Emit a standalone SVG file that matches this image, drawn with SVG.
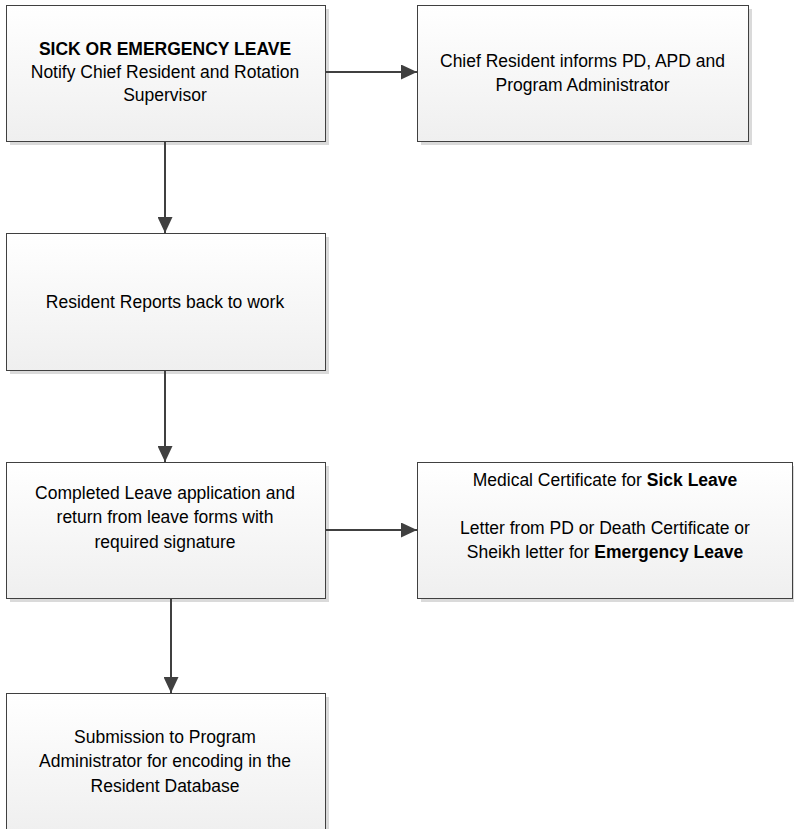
<svg xmlns="http://www.w3.org/2000/svg" width="794" height="829" viewBox="0 0 794 829">
<defs>
<linearGradient id="g" x1="0" y1="0" x2="0" y2="1">
<stop offset="0" stop-color="#ffffff"/>
<stop offset="1" stop-color="#efefef"/>
</linearGradient>
<marker id="ah" markerWidth="16" markerHeight="15" refX="16" refY="7.5" orient="auto" markerUnits="userSpaceOnUse">
<path d="M0,0 L16,7.5 L0,15 Z" fill="#404040"/>
</marker>
<style>
.sh{fill:#dadada;}
.bx{fill:url(#g);stroke:#404040;stroke-width:1;}
.t{font-family:"Liberation Sans",Arial,sans-serif;font-size:17.5px;fill:#000;text-anchor:middle;}
.b{font-weight:bold;}
.c{stroke:#404040;stroke-width:2;fill:none;marker-end:url(#ah);}
</style>
</defs>
<rect width="794" height="829" fill="#fff"/>
<g id="n1">
<rect class="sh" x="10" y="9" width="319" height="136"/>
<rect class="bx" x="6.5" y="5.5" width="319" height="136"/>
<text class="t b" x="165" y="55">SICK OR EMERGENCY LEAVE</text>
<text class="t" x="165" y="78">Notify Chief Resident and Rotation</text>
<text class="t" x="165" y="101">Supervisor</text>
</g>
<g id="n2">
<rect class="sh" x="421" y="9" width="331" height="136"/>
<rect class="bx" x="417.5" y="5.5" width="331" height="136"/>
<text class="t" x="582.5" y="67">Chief Resident informs PD, APD and</text>
<text class="t" x="582.5" y="91">Program Administrator</text>
</g>
<g id="n3">
<rect class="sh" x="10" y="237" width="319" height="137"/>
<rect class="bx" x="6.5" y="233.5" width="319" height="137"/>
<text class="t" x="165" y="308">Resident Reports back to work</text>
</g>
<g id="n4">
<rect class="sh" x="10" y="466" width="319" height="136"/>
<rect class="bx" x="6.5" y="462.5" width="319" height="136"/>
<text class="t" x="165" y="499">Completed Leave application and</text>
<text class="t" x="165" y="523">return from leave forms with</text>
<text class="t" x="165" y="548">required signature</text>
</g>
<g id="n5">
<rect class="sh" x="421" y="466" width="376" height="136"/>
<rect class="bx" x="417.5" y="462.5" width="375" height="136"/>
<text class="t" x="605" y="486">Medical Certificate for <tspan class="b">Sick Leave</tspan></text>
<text class="t" x="605" y="534">Letter from PD or Death Certificate or</text>
<text class="t" x="605" y="558">Sheikh letter for <tspan class="b">Emergency Leave</tspan></text>
</g>
<g id="n6">
<rect class="sh" x="10" y="697" width="319" height="140"/>
<rect class="bx" x="6.5" y="693.5" width="319" height="140"/>
<text class="t" x="165" y="743">Submission to Program</text>
<text class="t" x="165" y="767">Administrator for encoding in the</text>
<text class="t" x="165" y="792">Resident Database</text>
</g>
<g id="connectors">
<line class="c" x1="326" y1="72" x2="417" y2="72"/>
<line class="c" x1="165" y1="142" x2="165" y2="233"/>
<line class="c" x1="165" y1="371" x2="165" y2="462"/>
<line class="c" x1="326" y1="530" x2="417" y2="530"/>
<line class="c" x1="171" y1="599" x2="171" y2="693"/>
</g>
</svg>
